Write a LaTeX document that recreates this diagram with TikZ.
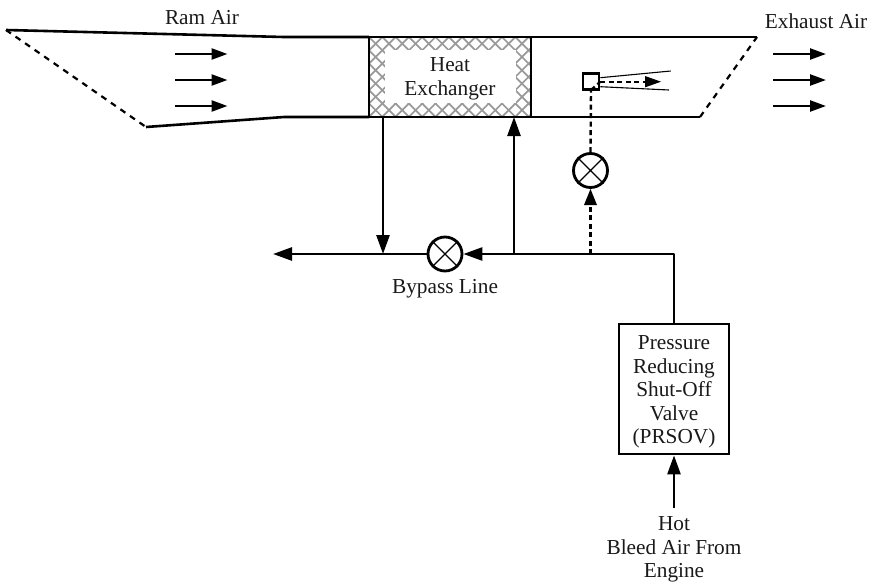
\documentclass[tikz,border=0pt]{standalone}
\usepackage{fontspec}
\setmainfont{Liberation Serif}
\usetikzlibrary{arrows.meta}
\tikzset{
  x=1pt,y=-1pt,
  duct/.style={line width=2.6pt,black,line join=round},
  ductdash/.style={line width=2.2pt,black,dash pattern=on 6pt off 5.6pt},
  flow/.style={line width=2.6pt,black,-{Triangle[length=19pt,width=13pt]}},
  flowdash/.style={line width=2.4pt,black,dash pattern=on 5pt off 3.5pt},
  tipfill/.style={fill=black,draw=none},
  valve/.style={circle,draw=black,line width=2.8pt,minimum size=34pt,inner sep=0pt,fill=white},
  lbl/.style={font=\fontsize{21.3}{23.6}\selectfont,text=black!90,align=center,inner sep=0pt},
  airarrow/.style={line width=2.4pt,black,-{Triangle[length=16pt,width=11pt]}},
  hatch/.style={line width=1.7pt,black!40}
}
\begin{document}
\begin{tikzpicture}
\useasboundingbox (0,0) rectangle (871,582);
% named points
\coordinate (ramTL) at (6,30);
\coordinate (ramTM) at (284,37);
\coordinate (ramBL) at (146,127);
\coordinate (ramBM) at (284,117);
\coordinate (exTR) at (757,37);
\coordinate (exBR) at (700,117);
\coordinate (hxTL) at (369,37);
\coordinate (hxBR) at (531,117);
% duct
\draw[duct] (ramTL) -- (ramTM) -- (hxTL);
\draw[duct] (ramBL) -- (ramBM) -- (hxTL |- hxBR);
\draw[ductdash] (ramTL) -- (ramBL);
\draw[duct] (hxBR |- hxTL) -- (exTR);
\draw[duct] (hxBR) -- (exBR);
\draw[ductdash] (exBR) -- (exTR);
% heat exchanger
\begin{scope}
  \clip (hxTL) rectangle (hxBR);
  \foreach \k in {-8,...,20}{
    \draw[hatch] (369+13.3*\k,37) -- ++(80,80);
    \draw[hatch] (369+13.3*\k,37) -- ++(-80,80);
  }
\end{scope}
\node[fill=white,minimum width=131pt,minimum height=53pt,inner sep=0pt] (hxin) at (450.5,76.5) {};
\draw[line width=2.8pt] (hxTL) rectangle (hxBR);
\node[lbl] (hx) at (450,79) {Heat\\Exchanger};
% labels
\node[lbl] (ram) at (202,18) {Ram Air};
\node[lbl] (exh) at (816,21) {Exhaust Air};
\node[lbl] (byp) at (445,289) {Bypass Line};
\node[lbl] (hot) at (674,549.5) {Hot\\Bleed Air From\\Engine};
% flow arrows
\foreach \y/\n in {54/a,80/b,106/c}{
  \coordinate (l\n) at (175,\y); \coordinate (m\n) at (227.5,\y);
  \draw[airarrow] (l\n) -- (m\n);
  \coordinate (r\n) at (773,\y); \coordinate (s\n) at (826,\y);
  \draw[airarrow] (r\n) -- (s\n);
}
% valves
\node[valve] (v1) at (445,254) {};
\node[valve] (v2) at (590.5,170.5) {};
\foreach \v in {v1,v2}{
  \draw[line width=1.3pt] (\v.45) -- (\v.225) (\v.135) -- (\v.315);
}
% PRSOV
\node[draw=black,line width=2.8pt,minimum width=110pt,minimum height=130pt,lbl,text width=108pt] (prsov) at (674,389) {};
\node[lbl] (prsovtext) at (674,392) {Pressure\\Reducing\\Shut-Off\\Valve\\(PRSOV)};
% junctions
\coordinate (jtop) at (674,254);
\coordinate (jd) at (590.5,254);
\coordinate (ju) at (514,254);
\coordinate (jdown) at (383,254);
\coordinate (end) at (273,254);
\coordinate (hot0) at (674,508);
% piping
\draw[line width=2.6pt,line join=round] (prsov.north) -- (jtop) -- (ju);
\draw[flow] (ju) -- (v1.east);
\draw[flow] (v1.west) -- (end);
\draw[flow] (jdown |- hxBR) -- (jdown);
\draw[flow] (ju) -- (ju |- hxBR);
\draw[flow] (hot0) -- (prsov.south);
% dashed circuit
\draw[flowdash] (jd) -- (590.5,205);
\fill[tipfill] (590.5,189) -- (584,205) -- (597,205) -- cycle;
\node[draw=black,line width=2.6pt,minimum size=16pt,inner sep=0pt] (box) at (591,81.7) {};
\draw[flowdash] (v2.north) -- (box.south);
\draw[line width=1.1pt] (box.east) ++(0,-4) coordinate (n1) -- (670.7,71);
\draw[line width=1.1pt] (box.east) ++(0,5) coordinate (n2) -- (669,90);
\draw[flowdash] (box.south) ++(0,-1) coordinate (d1) -- (box.east);
\draw[flowdash] (box.east) -- (647,81.7);
\fill[tipfill] (661,81.7) -- (645,76) -- (645,87.4) -- cycle;
\end{tikzpicture}
\end{document}
